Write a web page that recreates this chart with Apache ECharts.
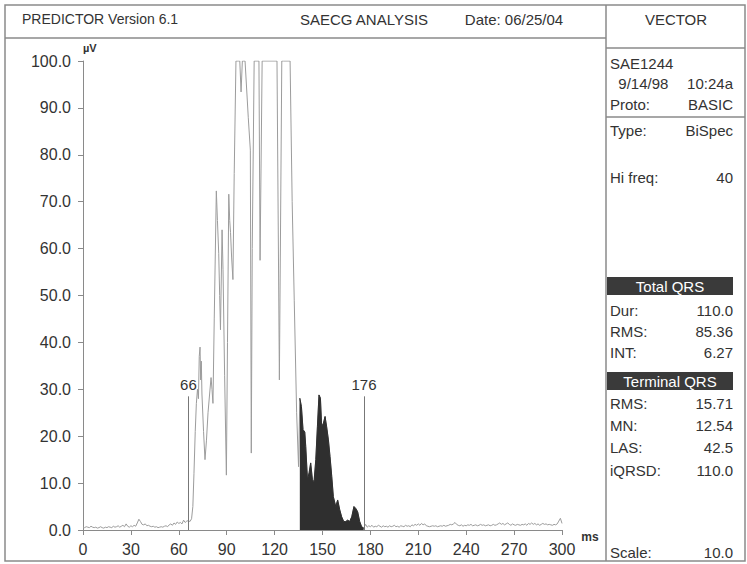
<!DOCTYPE html>
<html>
<head>
<meta charset="utf-8">
<script src="https://cdn.jsdelivr.net/npm/echarts@6/dist/echarts.min.js"></script>
<style>
html,body{margin:0;padding:0;background:#fff;}
#chart{width:747px;height:564px;}
</style>
</head>
<body>
<div id="chart"></div>
<script>
// ---- data (time in ms, amplitude in µV) ----
const baselineBefore = [
  [0,0.6],[1,0.5],[2,0.7],[3,0.6],[4,0.5],[5,0.8],[6,0.6],[7,0.5],[8,0.6],[9,0.4],
  [10,0.5],[11,0.7],[12,0.5],[13,0.4],[14,0.6],[15,0.5],[16,0.7],[17,0.6],[18,0.5],[19,0.8],
  [20,0.6],[21,0.7],[22,0.9],[23,0.6],[24,0.8],[25,1.0],[26,0.7],[27,1.3],[28,0.8],[29,0.6],
  [30,0.9],[31,0.7],[32,1.0],[33,0.8],[34,1.5],[35,2.3],[36,1.8],[37,1.2],[38,1.1],[39,1.3],
  [40,0.9],[41,1.0],[42,0.8],[43,0.7],[44,0.8],[45,0.6],[46,0.7],[47,0.5],[48,0.6],[49,0.7],
  [50,0.6],[51,0.8],[52,0.9],[53,0.7],[54,1.1],[55,1.3],[56,1.0],[57,1.5],[58,1.2],[59,1.7],
  [60,1.4],[61,1.6],[62,1.3],[63,2.1],[64,1.6],[65,1.9],[66,2.0],[67,1.8],[68,2.4]
];
const qrsComplex = [
  [68.8,5],[69.5,12],[70.3,21],[71,27],[71.7,30],[72.3,28],[72.8,37],[73.3,39],[73.7,32],[74.1,36],
  [74.5,29],[75.5,21],[76.4,15],[77.3,19],[78.3,25],[79.3,29],[80.2,32.5],[80.8,30],[81.4,27],[82.2,45],
  [83.5,72.3],[84.2,66],[85,59],[85.6,50],[86.1,42.7],[87.1,64],[87.7,55.5],[88.7,33],[89.8,11.7],[90.5,40],
  [91.3,71.6],[91.9,66],[92.4,63.4],[93.1,58],[93.9,53.4],[94.7,76],[95.8,100],[97.2,100],[98.2,100],[99,93.4],
  [99.8,100],[101.5,100],[103.5,88],[104.8,81],[105.4,16.4],[106,60],[107.2,100],[110.2,100],[110.9,57.5],[112.2,100],
  [121.5,100],[123,32],[124.5,100],[125.5,100],[129.7,100],[131,70],[132.3,49],[133.8,25],[135,13.5]
];
const terminalSegment = [
  [135.8,28.1],[136.8,26.3],[137.8,21.4],[138.9,20.9],[139.5,17.8],[140.6,10.7],[141.6,12.2],[142.6,14.3],
  [143.7,10.7],[144.7,10.3],[145.8,15],[146.8,22],[147.8,28.8],[148.7,28.1],[149.5,22],[150.6,22.8],
  [151.6,24.2],[152.6,22],[153.7,19.2],[154.7,15.7],[155.8,11.4],[156.8,7.1],[158.3,5.0],[159.5,6.4],
  [160.8,4.3],[162,2.8],[163.3,1.8],[164.5,1.8],[165.8,2.1],[167,1.8],[168.3,2.8],[169.7,5.0],
  [170.8,4.6],[172,3.9],[173.3,1.8],[174.5,0.7],[175.8,0.4]
];
const baselineAfter = [
  [177,1.2],[178,0.6],[179,0.9],[180,0.7],[181,1.0],[182,0.6],[183,0.8],[184,0.7],[185,1.0],[186,0.8],
  [187,0.6],[188,0.9],[189,0.7],[190,0.8],[191,0.6],[192,0.9],[193,0.7],[194,0.8],[195,1.0],[196,0.7],
  [197,0.8],[198,0.6],[199,0.9],[200,0.8],[201,0.7],[202,1.0],[203,0.8],[204,0.9],[205,0.7],[206,1.1],
  [207,0.9],[208,1.2],[209,1.0],[210,1.3],[211,1.0],[212,1.4],[213,1.1],[214,1.3],[215,0.9],[216,0.8],
  [217,0.7],[218,0.8],[219,0.9],[220,0.8],[221,0.9],[222,0.7],[223,0.8],[224,0.9],[225,0.8],[226,1.0],
  [227,0.8],[228,0.9],[229,1.0],[230,1.2],[231,1.1],[232,1.3],[233,1.6],[234,1.2],[235,1.0],[236,0.9],
  [237,1.1],[238,0.8],[239,1.0],[240,0.9],[241,1.1],[242,1.0],[243,1.2],[244,0.9],[245,1.0],[246,1.1],
  [247,0.9],[248,1.0],[249,1.2],[250,1.0],[251,1.1],[252,0.9],[253,1.0],[254,1.1],[255,0.9],[256,1.0],
  [257,1.2],[258,1.0],[259,1.1],[260,1.3],[261,1.5],[262,1.2],[263,1.4],[264,1.1],[265,1.3],[266,1.5],
  [267,1.2],[268,1.0],[269,1.3],[270,1.1],[271,1.0],[272,1.2],[273,1.1],[274,1.0],[275,1.2],[276,1.1],
  [277,1.3],[278,1.0],[279,1.4],[280,1.2],[281,1.5],[282,1.2],[283,1.4],[284,1.1],[285,1.3],[286,1.0],
  [287,1.2],[288,1.4],[289,1.2],[290,1.3],[291,1.1],[292,1.2],[293,1.1],[294,1.0],[295,1.2],[296,1.1],
  [297,1.3],[298,1.9],[299,2.5],[300,1.4]
];
const markerTimes = [66, 176];
const markerTop = 28.5;

const headerTexts = ['PREDICTOR Version 6.1', 'SAECG ANALYSIS', 'Date: 06/25/04', 'VECTOR'];
const infoRows = [
  ['SAE1244', ''], ['  9/14/98', '10:24a'], ['Proto:', 'BASIC'],
  ['Type:', 'BiSpec'], ['Hi freq:', '40'],
  ['Dur:', '110.0'], ['RMS:', '85.36'], ['INT:', '6.27'],
  ['RMS:', '15.71'], ['MN:', '12.54'], ['LAS:', '42.5'], ['iQRSD:', '110.0'],
  ['Scale:', '10.0']
];
const sectionTitles = ['Total QRS', 'Terminal QRS'];

// ---- build ----
const signal = baselineBefore.concat(qrsComplex, terminalSegment, baselineAfter);
const FONT = '"Liberation Sans", Arial, Helvetica, sans-serif';
const TXT = '#333';
const LINE = '#8a8a8a';

const rowY = [63, 83, 104, 130, 177, 310, 331, 352, 403, 425, 447, 470, 552];
const graphic = [];
function line(x1, y1, x2, y2, w) {
  graphic.push({type:'line', silent:true, shape:{x1,y1,x2,y2}, style:{stroke:LINE, lineWidth:w||1}});
}
// frame
graphic.push({type:'rect', silent:true, shape:{x:5,y:5,width:740,height:556}, style:{fill:'none', stroke:LINE, lineWidth:1.5}});
line(606, 5, 606, 561, 1.5);
line(5, 38, 606, 38, 1.5);
line(606, 48, 745, 48, 1.5);
line(606, 117, 745, 117, 1.5);
// header
const hdrPos = [[22,'left',14], [364,'center',15], [514,'center',15], [676,'center',15]];
headerTexts.forEach((t, i) => {
  graphic.push({type:'text', silent:true, x:hdrPos[i][0], y:19,
    style:{text:t, font:hdrPos[i][2] + 'px ' + FONT, fill:TXT, textAlign:hdrPos[i][1], textVerticalAlign:'middle'}});
});
// info rows
infoRows.forEach((r, i) => {
  graphic.push({type:'text', silent:true, x:610, y:rowY[i],
    style:{text:r[0], font:'15px ' + FONT, fill:TXT, textAlign:'left', textVerticalAlign:'middle'}});
  if (r[1]) graphic.push({type:'text', silent:true, x:733, y:rowY[i],
    style:{text:r[1], font:'15px ' + FONT, fill:TXT, textAlign:'right', textVerticalAlign:'middle'}});
});
// section bars
[277, 372].forEach((y, i) => {
  graphic.push({type:'rect', silent:true, shape:{x:607,y:y,width:126,height:18}, style:{fill:'#3a3a3a'}});
  graphic.push({type:'text', silent:true, x:670, y:y+9,
    style:{text:sectionTitles[i], font:'15px ' + FONT, fill:'#fff', textAlign:'center', textVerticalAlign:'middle'}});
});

const chart = echarts.init(document.getElementById('chart'), null, {renderer:'svg'});
chart.setOption({
  animation:false,
  backgroundColor:'#fff',
  textStyle:{fontFamily:FONT},
  grid:{left:83, right:185, top:61, bottom:34},
  xAxis:{
    type:'value', min:0, max:300, interval:30,
    name:'ms', nameLocation:'end', nameGap:0,
    nameTextStyle:{fontWeight:'bold', fontSize:12, color:TXT, verticalAlign:'top', padding:[1,0,0,0]},
    axisLine:{show:true, lineStyle:{color:LINE}},
    axisTick:{show:true, length:5, lineStyle:{color:LINE}},
    axisLabel:{fontSize:16, color:TXT, margin:11},
    splitLine:{show:false}
  },
  yAxis:{
    type:'value', min:0, max:100, interval:10,
    name:'µV', nameLocation:'end', nameGap:8,
    nameTextStyle:{fontWeight:'bold', fontSize:11, color:TXT, align:'left'},
    axisLine:{show:true, lineStyle:{color:LINE}},
    axisTick:{show:true, length:5, lineStyle:{color:LINE}},
    axisLabel:{fontSize:16, color:TXT, margin:12, formatter:v => v.toFixed(1)},
    splitLine:{show:false}
  },
  graphic:graphic,
  series:[
    {
      type:'line', name:'signal', data:signal, showSymbol:false, symbol:'none',
      lineStyle:{color:'#9c9c9c', width:1}, z:2,
      markLine:{
        silent:true, symbol:['none','none'],
        lineStyle:{color:'#777', width:1, type:'solid'},
        label:{show:true, position:'end', formatter:'{b}', fontSize:15, color:TXT, distance:4},
        data:markerTimes.map(t => [{coord:[t,0], name:String(t)}, {coord:[t,markerTop]}])
      }
    },
    {
      type:'line', name:'terminal', data:terminalSegment, showSymbol:false, symbol:'none',
      lineStyle:{color:'#2f2f2f', width:1}, areaStyle:{color:'#2f2f2f', opacity:1}, z:3
    }
  ]
});
</script>
</body>
</html>
